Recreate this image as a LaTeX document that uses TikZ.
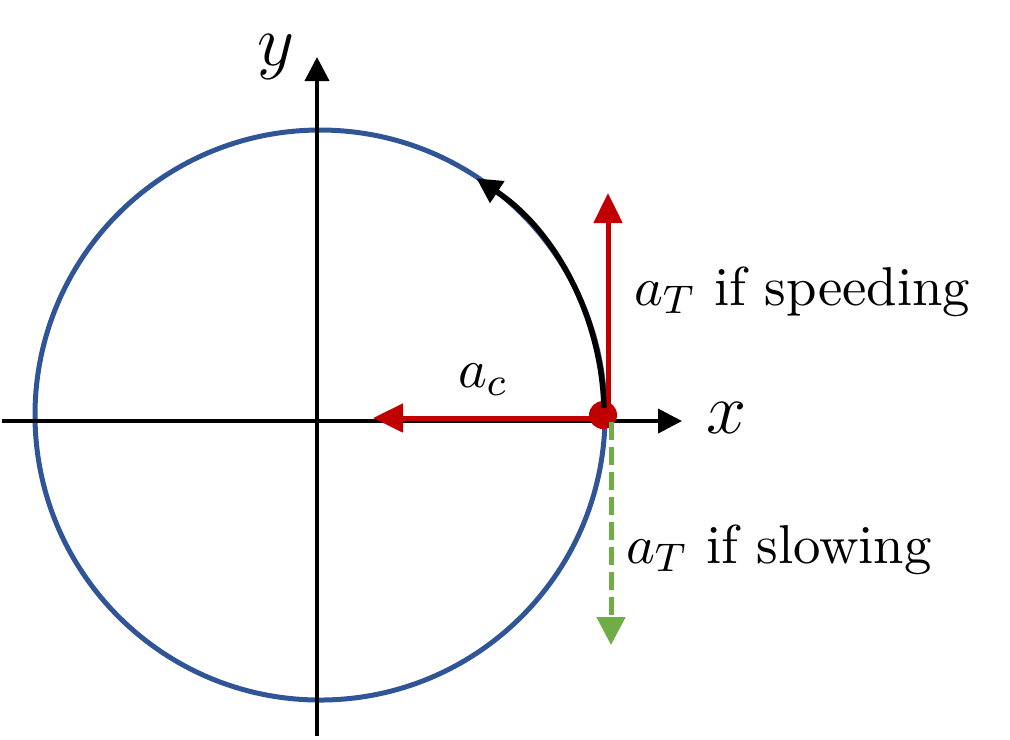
\documentclass[tikz,border=0pt]{standalone}
\usetikzlibrary{arrows.meta}
\definecolor{circblue}{HTML}{2F5597}
\definecolor{vecred}{HTML}{C00000}
\definecolor{vecgreen}{HTML}{70AD47}
\begin{document}
\begin{tikzpicture}[x=0.2pt,y=-0.2pt,
  axis/.style={line width=0.8pt, black, -{Triangle[length=4.8pt,width=4.8pt]}},
  vec/.style={line width=1pt, -{Triangle[length=6pt,width=5.6pt]}},
  lbl/.style={inner sep=0pt, font=\fontsize{10.95}{13}\selectfont},
  axlbl/.style={inner sep=0pt, font=\fontsize{14.4}{16}\selectfont}]
\useasboundingbox (0,0) rectangle (1010,739);
% coordinates
\coordinate (O) at (320,415);
\coordinate (xs) at (2,421);
\coordinate (xe) at (682,421);
\coordinate (ys) at (317,736);
\coordinate (ye) at (317,57);
\coordinate (upS) at (608,415);
\coordinate (upE) at (608,193);
\coordinate (lfS) at (603,418);
\coordinate (lfE) at (373,418);
\coordinate (dnS) at (611,422);
\coordinate (dnE) at (611,645);
\coordinate (arcS) at (604,408);
% circle
\draw[circblue, line width=1pt] (O) circle[radius=285];
% axes
\draw[axis] (xs) -- (xe);
\draw[axis] (ys) -- (ye);
% red vectors
\draw[vec, vecred] (upS) -- (upE);
\draw[vec, vecred] (lfS) -- (lfE);
% dot
\node[circle, fill=vecred, minimum size=5.6pt, inner sep=0pt] (P) at (603,415) {};
% black arc
\draw[black, line width=1.1pt, -{Triangle[length=5pt,width=5pt]}] (arcS) arc[start angle=-1.5, end angle=-56.6, radius=284];
% green dashed
\draw[vec, vecgreen, dash pattern=on 3.6pt off 1.4pt, -{Triangle[length=5.6pt,width=5.6pt]}] (dnS) -- (dnE);
% labels
\node[lbl, anchor=base west] (ac) at (457,387) {$a_c$};
\node[lbl, anchor=base west] (speed) at (633,305) {$a_T$ if speeding};
\node[lbl, anchor=base west] (slow) at (625,563) {$a_T$ if slowing};
\node[axlbl] (xl) at (727,418) {$x$};
\node[axlbl] (yl) at (276,57) {$y$};
\end{tikzpicture}
\end{document}
